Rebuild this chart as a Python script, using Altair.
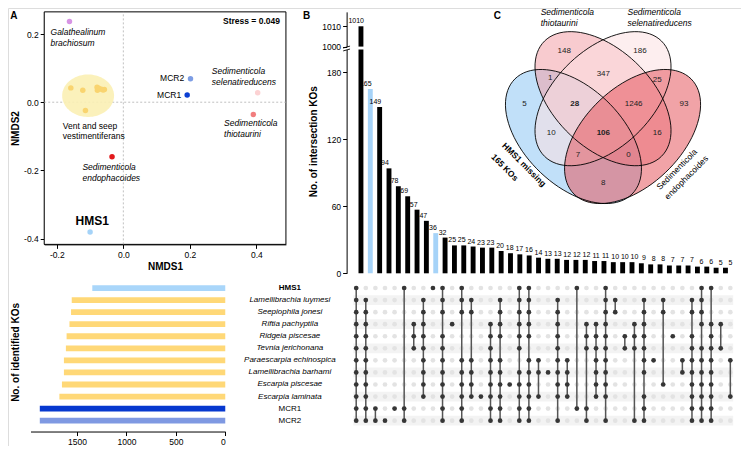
import math
import altair as alt
import pandas as pd

W, H = 733, 438
FX, FY = W / 749, H / 454
FONT = "Liberation Sans"


def fx(v):
    return round(v * FX, 2)


def fy(v):
    return round(v * FY, 2)


# ---------------- data ----------------
nmds_taxa = ["Galathealinum brachiosum", "Lamellibrachia luymesi", "Seepiophila jonesi",
             "Riftia pachyptila", "Ridgeia piscesae", "Tevnia jerichonana",
             "Paraescarpia echinospica", "Lamellibrachia barhami", "Escarpia piscesae",
             "Escarpia laminata", "MCR2", "MCR1", "Sedimenticola selenatireducens",
             "Sedimenticola thiotaurini", "Sedimenticola endophacoides", "HMS1"]
nmds1 = [-0.162, -0.158, -0.122, -0.079, -0.078, -0.066, -0.057, -0.114, -0.074, -0.061,
         0.202, 0.192, 0.404, 0.391, -0.034, -0.100]
nmds2 = [0.237, 0.042, 0.035, 0.044, 0.035, 0.038, 0.037, -0.024, 0.041, 0.036,
         0.069, 0.021, 0.028, -0.036, -0.160, -0.381]
nmds_colors = ["#d794e4"] + ["#f9d46f"] * 9 + ["#7d9de4", "#0b3fd3", "#fcd2d3",
                                                 "#f17d7e", "#e2191c", "#a5d3f8"]

genomes = ["HMS1", "Lamellibrachia luymesi", "Seepiophila jonesi", "Riftia pachyptila",
           "Ridgeia piscesae", "Tevnia jerichonana", "Paraescarpia echinospica",
           "Lamellibrachia barhami", "Escarpia piscesae", "Escarpia laminata", "MCR1", "MCR2"]
ko_counts = [1345, 1553, 1560, 1576, 1605, 1612, 1632, 1632, 1652, 1678, 1876, 1876]
genome_colors = ["#a9d6fa"] + ["#ffd877"] * 9 + ["#0638cf", "#7f99e2"]

intersection_sizes = [1010, 165, 149, 94, 78, 69, 57, 47, 36, 32, 25, 25, 24, 23, 23, 20, 18,
                      17, 16, 14, 13, 13, 12, 12, 12, 11, 11, 10, 10, 10, 9, 8, 8, 7, 7, 7,
                      6, 6, 5, 5]
highlight_cols = [1, 8]


def all_but(*rows):
    return [r for r in range(12) if r not in rows]


# genome row indices (order of `genomes`) present in each intersection
intersection_members = [
    all_but(), all_but(0), [10, 11], [11], [10], [0, 10, 11], [3, 4, 5],
    list(range(1, 10)), [0], all_but(3), [3],
    [0, 1, 2, 6, 7, 8, 9, 10, 11], [1, 2, 6, 7, 8, 9], [9], [3, 4, 5, 6, 7, 8, 9, 10, 11],
    all_but(0, 5), [8], all_but(6), all_but(5), [6, 7, 9], [7], all_but(0, 10),
    [6, 7, 8, 9], [0, 10], [3, 4, 5, 10, 11], [3, 4, 5, 6, 7, 8, 9],
    all_but(10), [1, 2], [4, 5], [3, 4, 5, 11],
    all_but(0, 8), [6], [1, 2, 8], [4], [6, 7],
    all_but(0, 3), all_but(4), [0, 3, 4, 5, 6, 7, 8, 9, 10, 11], [3, 5], [6, 9]]

venn_sets = ["HMS1 missing", "S. thiotaurini", "S. selenatireducens", "S. endophacoides"]
venn_colors = ["#8ec6f4", "#f3a1a7", "#fbe0e2", "#e6585e"]
venn_regions = ["A", "B", "C", "D", "AB", "BC", "CD", "ABC", "BCD", "AC", "ABCD", "BD",
                "ACD", "ABD", "AD"]
venn_counts = [5, 148, 186, 93, 1, 347, 25, 28, 1246, 10, 106, 16, 7, 0, 8]

# ---------------- helpers ----------------
UNIT = 100.0
SHAPE_SIZE = 4 * UNIT ** 2


def ellipse_path(a, b, theta_deg, n=90):
    th = math.radians(theta_deg)
    pts = []
    for i in range(n):
        t = 2 * math.pi * i / n
        x = a * math.cos(t) * math.cos(th) - b * math.sin(t) * math.sin(th)
        y = a * math.cos(t) * math.sin(th) + b * math.sin(t) * math.cos(th)
        pts.append(f"{x * FX / UNIT:.4f},{y * FY / UNIT:.4f}")
    return "M" + "L".join(pts) + "Z"


def lin(domain, r0, r1, **kw):
    return alt.Scale(domain=domain, range=[r0, r1], nice=False, zero=False, **kw)


axc = dict(labelFont=FONT, labelFontSize=8.5, labelColor="black", tickColor="black",
           domainColor="black", tickSize=4, grid=False, titleFont=FONT, titleFontSize=10,
           titleFontWeight="bold", titleColor="black")
neg_expr = "datum.value < 0 ? '-' + format(-datum.value, '.1f') : format(datum.value, '.1f')"

# reference-pixel scales for annotations
PXs = lin([0, 749], 0, W)
PYs = lin([0, 454], 0, H)


def text_layers(df, xf, yf, xs, ys, style_map):
    out = []
    for kind, st in style_map.items():
        sub = df[df["kind"] == kind]
        if len(sub) == 0:
            continue
        params = dict(font=FONT, color="black", baseline="middle")
        params.update(st)
        out.append(alt.Chart(sub).mark_text(**params).encode(
            x=alt.X(f"{xf}:Q", scale=xs, axis=None),
            y=alt.Y(f"{yf}:Q", scale=ys, axis=None),
            text="label:N"))
    return out


layers = []

# ---------------- Panel A ----------------
xA = lin([-0.238, 0.489], fx(37), fx(284))
yA = lin([-0.417, 0.265], fy(245), fy(4))
dfA = pd.DataFrame({"taxon": nmds_taxa, "NMDS1": nmds1, "NMDS2": nmds2})

frameA = alt.Chart(pd.DataFrame({"x0": [-0.238], "x1": [0.489], "y0": [-0.417], "y1": [0.265]})).mark_rect(
    fill="white", stroke="black", strokeWidth=1).encode(
    x=alt.X("x0:Q", scale=xA, axis=None), x2="x1:Q",
    y=alt.Y("y0:Q", scale=yA, axis=None), y2="y1:Q")
zero_x = alt.Chart(pd.DataFrame({"NMDS1": [0.0], "y0": [-0.417], "y1": [0.265]})).mark_rule(
    color="#b0b0b0", strokeDash=[2, 2], strokeWidth=0.8).encode(
    x=alt.X("NMDS1:Q", scale=xA, axis=None), y=alt.Y("y0:Q", scale=yA, axis=None), y2="y1:Q")
zero_y = alt.Chart(pd.DataFrame({"NMDS2": [0.0], "x0": [-0.238], "x1": [0.489]})).mark_rule(
    color="#b0b0b0", strokeDash=[2, 2], strokeWidth=0.8).encode(
    y=alt.Y("NMDS2:Q", scale=yA, axis=None), x=alt.X("x0:Q", scale=xA, axis=None), x2="x1:Q")
ellA = alt.Chart(pd.DataFrame({"NMDS1": [-0.106], "NMDS2": [0.019]})).mark_point(
    shape=ellipse_path(26.5, 22, 0), size=SHAPE_SIZE, filled=True, color="#fbefb4",
    opacity=0.9, strokeWidth=0).encode(
    x=alt.X("NMDS1:Q", scale=xA, axis=None), y=alt.Y("NMDS2:Q", scale=yA, axis=None))
ptsA = alt.Chart(dfA).mark_circle(size=30, opacity=1).encode(
    x=alt.X("NMDS1:Q", scale=xA, axis=alt.Axis(
        orient="bottom", offset=round(fy(245) - H, 2), values=[-0.2, 0, 0.2, 0.4],
        labelExpr=neg_expr, title="NMDS1", titlePadding=3, **axc)),
    y=alt.Y("NMDS2:Q", scale=yA, axis=alt.Axis(
        orient="left", offset=-fx(37), values=[-0.4, -0.2, 0, 0.2], labelExpr=neg_expr,
        title="NMDS2", titlePadding=3, **axc)),
    color=alt.Color("taxon:N", scale=alt.Scale(domain=nmds_taxa, range=nmds_colors), legend=None))

annA = pd.DataFrame([
    ("Galathealinum", -0.219, 0.206, "it"), ("brachiosum", -0.219, 0.175, "it"),
    ("Sedimenticola", 0.266, 0.091, "it"), ("selenatireducens", 0.266, 0.058, "it"),
    ("Sedimenticola", 0.303, -0.062, "it"), ("thiotaurini", 0.303, -0.094, "it"),
    ("Sedimenticola", -0.123, -0.190, "it"), ("endophacoides", -0.123, -0.222, "it"),
    ("Vent and seep", -0.182, -0.069, "pl"), ("vestimentiferans", -0.182, -0.100, "pl"),
    ("MCR2", 0.183, 0.070, "pr"), ("MCR1", 0.174, 0.022, "pr"),
    ("HMS1", -0.144, -0.349, "bb"), ("Stress = 0.049", 0.471, 0.237, "br"),
], columns=["label", "NMDS1", "NMDS2", "kind"])
layers += [frameA, zero_x, zero_y, ellA, ptsA]
layers += text_layers(annA, "NMDS1", "NMDS2", xA, yA, {
    "it": dict(align="left", fontStyle="italic", fontSize=8.5),
    "pl": dict(align="left", fontSize=8.5),
    "pr": dict(align="right", fontSize=8.5),
    "bb": dict(align="left", fontWeight="bold", fontSize=12),
    "br": dict(align="right", fontWeight="bold", fontSize=8.5)})

# ---------------- Panel B: intersection bars ----------------
dfB = pd.DataFrame({"col": list(range(len(intersection_sizes))), "n": intersection_sizes})
dfB["kind"] = ["hms" if c in highlight_cols else "other" for c in dfB["col"]]
dfB["base"] = 1000
xB = lin([-1.0, 39.5], fx(346), fx(743))
yUp = lin([1000, 1017.1], fy(40), fy(4))
yLow = alt.Scale(domain=[0, 200.5], range=[fy(275), fy(43)], nice=False, zero=True, clamp=True)
barColor = alt.Color("kind:N", scale=alt.Scale(domain=["other", "hms"], range=["black", "#a6d3f8"]),
                     legend=None)

bup = alt.Chart(dfB).transform_filter("datum.n > 1000")
layers.append(bup.mark_bar(size=fx(5)).encode(
    x=alt.X("col:Q", scale=xB, axis=None),
    y=alt.Y("n:Q", scale=yUp, axis=alt.Axis(orient="left", offset=-fx(346), values=[1000, 1010],
                                            format="d", title=None, **axc)),
    y2="base:Q", color=barColor))
layers.append(bup.mark_text(font=FONT, fontSize=7, dy=-5, color="black").encode(
    x=alt.X("col:Q", scale=xB, axis=None), y=alt.Y("n:Q", scale=yUp, axis=None),
    text=alt.Text("n:Q", format="d")))
layers.append(alt.Chart(dfB).mark_bar(size=fx(5)).encode(
    x=alt.X("col:Q", scale=xB, axis=None),
    y=alt.Y("n:Q", scale=yLow, axis=alt.Axis(
        orient="left", offset=-fx(346), values=[0, 60, 120, 180], title="No. of intersection KOs",
        titleX=fx(-34), titleY=fy(138), titleAngle=270, titleAlign="center",
        titleBaseline="middle", **axc)),
    color=barColor))
layers.append(alt.Chart(dfB).transform_filter("datum.n <= 200").mark_text(
    font=FONT, fontSize=7, dy=-5, color="black").encode(
    x=alt.X("col:Q", scale=xB, axis=None), y=alt.Y("n:Q", scale=yLow, axis=None),
    text=alt.Text("n:Q", format="d")))

# axis break marks
brk = pd.DataFrame({"x0": [342.5, 342.5], "x1": [349.5, 349.5], "y0": [41.5, 44.5], "y1": [39.5, 42.5]})
layers.append(alt.Chart(brk).mark_rule(color="black", strokeWidth=0.9).encode(
    x=alt.X("x0:Q", scale=PXs, axis=None), x2="x1:Q",
    y=alt.Y("y0:Q", scale=PYs, axis=None), y2="y1:Q"))

# ---------------- Panel C: Venn ----------------
dfV = pd.DataFrame({"set": venn_sets, "cx": [577.8, 608.0, 608.0, 638.2],
                    "cy": [133.2, 94.0, 94.0, 133.2], "tilt": ["down", "down", "up", "up"]})
shape_scale = alt.Scale(domain=["down", "up"],
                        range=[ellipse_path(84.5, 50.2, 45), ellipse_path(84.5, 50.2, -45)])
layers.append(alt.Chart(dfV).mark_point(filled=True, size=SHAPE_SIZE, opacity=0.55, strokeWidth=0).encode(
    x=alt.X("cx:Q", scale=PXs, axis=None), y=alt.Y("cy:Q", scale=PYs, axis=None),
    shape=alt.Shape("tilt:N", scale=shape_scale, legend=None),
    color=alt.Color("set:N", scale=alt.Scale(domain=venn_sets, range=venn_colors), legend=None),
    order=alt.Order("cx:Q")))
layers.append(alt.Chart(dfV).mark_point(filled=False, size=SHAPE_SIZE, color="black",
                                        strokeWidth=0.9, opacity=1).encode(
    x=alt.X("cx:Q", scale=PXs, axis=None), y=alt.Y("cy:Q", scale=PYs, axis=None),
    shape=alt.Shape("tilt:N", scale=shape_scale, legend=None)))

venn_pos_x = [527.7, 568.3, 645.7, 690.7, 554.0, 608.3, 663.3, 579.0, 639.3, 555.0, 608.3, 663.3,
              582.3, 634.0, 608.3]
venn_pos_y = [99, 44.3, 44.3, 99, 72.7, 68.3, 74.3, 99, 99, 130, 130, 130, 152.7, 152.7, 181]
dfVN = pd.DataFrame({"label": [str(c) for c in venn_counts], "vx": venn_pos_x, "vy": venn_pos_y,
                     "kind": ["b" if r in ("ABC", "ABCD") else "n" for r in venn_regions]})
layers += text_layers(dfVN, "vx", "vy", PXs, PYs, {
    "n": dict(align="center", fontSize=8, color="#222"),
    "b": dict(align="center", fontSize=8, fontWeight="bold", color="#222")})

# ---------------- lower-left: identified KOs ----------------
dfHB = pd.DataFrame({"genome": genomes, "n": ko_counts})
layers.append(alt.Chart(dfHB).mark_bar().encode(
    y=alt.Y("genome:N", sort=genomes, axis=None,
            scale=alt.Scale(domain=genomes, range=[fy(284), fy(434)], paddingInner=0.52,
                            paddingOuter=0.26)),
    x=alt.X("n:Q", scale=alt.Scale(domain=[0, 1970], range=[fx(222), fx(23)], nice=False, zero=True),
            axis=alt.Axis(orient="bottom", offset=round(fy(439) - H, 2), values=[0, 500, 1000, 1500],
                          format="d", title=None, **axc)),
    color=alt.Color("genome:N", scale=alt.Scale(domain=genomes, range=genome_colors), legend=None)))

# ---------------- lower-right: membership matrix ----------------
ysM = lin([-0.5, 11.5], fy(284), fy(434))
cells = []
for c, mem in enumerate(intersection_members):
    for r in range(len(genomes)):
        cells.append({"col": c, "row": r, "member": r in mem})
dfM = pd.DataFrame(cells)
dfS = pd.DataFrame([{"col": c, "r0": min(m), "r1": max(m)}
                    for c, m in enumerate(intersection_members) if len(m) > 1])
stripes = pd.DataFrame({"r0": [r - 0.4 for r in range(1, 12, 2)],
                        "r1": [r + 0.4 for r in range(1, 12, 2)]})
stripes["x0"] = -0.3
stripes["x1"] = 39.3
layers.append(alt.Chart(stripes).mark_rect(color="#f3f3f3").encode(
    x=alt.X("x0:Q", scale=xB, axis=None), x2="x1:Q",
    y=alt.Y("r0:Q", scale=ysM, axis=None), y2="r1:Q"))
layers.append(alt.Chart(dfM).mark_circle(size=22, color="#e3e3e3", opacity=1).encode(
    x=alt.X("col:Q", scale=xB, axis=None), y=alt.Y("row:Q", scale=ysM, axis=None)))
layers.append(alt.Chart(dfS).mark_rule(color="#555555", strokeWidth=1.5).encode(
    x=alt.X("col:Q", scale=xB, axis=None), y=alt.Y("r0:Q", scale=ysM, axis=None), y2="r1:Q"))
layers.append(alt.Chart(dfM).transform_filter("datum.member").mark_circle(
    size=22, color="#363636", opacity=1).encode(
    x=alt.X("col:Q", scale=xB, axis=None), y=alt.Y("row:Q", scale=ysM, axis=None)))

names = pd.DataFrame({"label": genomes, "row": list(range(12)),
                      "kind": ["bold"] + ["it"] * 9 + ["pl", "pl"]})
names["nx"] = 288.0
for kind, st in {"bold": dict(fontWeight="bold"), "it": dict(fontStyle="italic"), "pl": {}}.items():
    params = dict(font=FONT, fontSize=8, color="black", align="center", baseline="middle")
    params.update(st)
    layers.append(alt.Chart(names[names["kind"] == kind]).mark_text(**params).encode(
        x=alt.X("nx:Q", scale=PXs, axis=None), y=alt.Y("row:Q", scale=ysM, axis=None), text="label:N"))

# ---------------- free labels (titles, panel letters, Venn set names) ----------------
dfL = pd.DataFrame([
    ("A", 6, 8, "letter"), ("B", 305, 8, "letter"), ("C", 500, 8, "letter"),
    ("Sedimenticola", 544.3, 4.5, "it"), ("thiotaurini", 544.3, 15.5, "it"),
    ("Sedimenticola", 633.0, 4.5, "it"), ("selenatireducens", 633.0, 15.5, "it"),
    ("HMS1 missing", 506.5, 141.0, "hb"), ("165 KOs", 495.5, 152.7, "hb"),
    ("Sedimenticola", 664.0, 186.7, "ep"), ("endophacoides", 672.3, 196.7, "ep"),
    ("No. of identified KOs", 8, 357, "vt"),
], columns=["label", "px", "py", "kind"])
layers += text_layers(dfL, "px", "py", PXs, PYs, {
    "letter": dict(align="center", fontWeight="bold", fontSize=10),
    "it": dict(align="left", fontStyle="italic", fontSize=8.5),
    "hb": dict(align="left", fontWeight="bold", fontSize=8.5, angle=45),
    "ep": dict(align="left", fontSize=8.5, angle=315),
    "vt": dict(align="center", fontWeight="bold", fontSize=10, angle=270)})

chart = alt.layer(*layers).resolve_scale(
    x="independent", y="independent", color="independent", shape="independent"
).properties(
    width=W, height=H, padding=0, autosize=alt.AutoSizeParams(type="none")
).configure_view(stroke=None).configure(font=FONT)

chart.save("out.html", embed_options={"renderer": "svg", "actions": False})
